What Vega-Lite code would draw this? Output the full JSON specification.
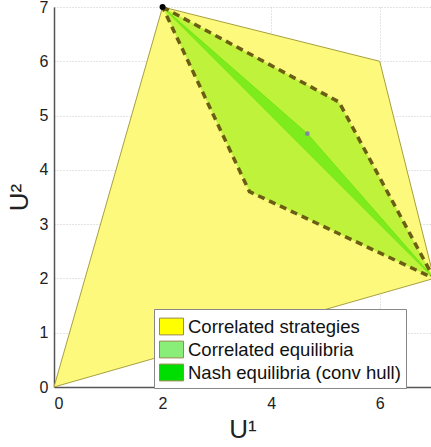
{
  "$schema": "https://vega.github.io/schema/vega-lite/v6.json",
  "width": 377,
  "height": 380,
  "autosize": "none",
  "padding": {"left": 54, "top": 7, "right": 0, "bottom": 60},
  "background": "white",
  "config": {
    "view": {"stroke": null},
    "font": "Liberation Sans",
    "axis": {
      "labelFont": "Liberation Sans",
      "titleFont": "Liberation Sans",
      "labelFontSize": 16,
      "labelColor": "#222",
      "titleFontSize": 26,
      "titleFontWeight": "normal",
      "titleColor": "#222",
      "domainColor": "#555",
      "domainWidth": 1.5,
      "gridColor": "#c8c8c8",
      "gridDash": [1, 2],
      "gridWidth": 1,
      "ticks": false
    },
    "legend": {
      "labelFont": "Liberation Sans",
      "labelFontSize": 18.5,
      "labelColor": "#111",
      "symbolOpacity": 1
    }
  },
  "datasets": {
    "poly": [
      {"poly": "strategies", "i": 1, "u1": 0, "u2": 0},
      {"poly": "strategies", "i": 2, "u1": 2, "u2": 7},
      {"poly": "strategies", "i": 3, "u1": 6, "u2": 6},
      {"poly": "strategies", "i": 4, "u1": 7, "u2": 2},
      {"poly": "strategies", "i": 5, "u1": 0, "u2": 0},
      {"poly": "ce", "i": 1, "u1": 2, "u2": 7},
      {"poly": "ce", "i": 2, "u1": 5.25, "u2": 5.25},
      {"poly": "ce", "i": 3, "u1": 7, "u2": 2},
      {"poly": "ce", "i": 4, "u1": 3.6, "u2": 3.6},
      {"poly": "ce", "i": 5, "u1": 2, "u2": 7},
      {"poly": "nash", "i": 1, "u1": 2, "u2": 7},
      {"poly": "nash", "i": 2, "u1": 4.667, "u2": 4.667},
      {"poly": "nash", "i": 3, "u1": 7, "u2": 2},
      {"poly": "nash", "i": 4, "u1": 2, "u2": 7}
    ],
    "pts": [
      {"name": "pure", "u1": 2, "u2": 7},
      {"name": "mixed", "u1": 4.667, "u2": 4.667}
    ],
    "leg": [
      {"label": "Correlated strategies", "u1": 0, "u2": 0},
      {"label": "Correlated equilibria", "u1": 0, "u2": 0},
      {"label": "Nash equilibria (conv hull)", "u1": 0, "u2": 0}
    ]
  },
  "encoding": {
    "x": {"field": "u1", "type": "quantitative", "scale": {"domain": [0, 6.945], "nice": false, "zero": false},
      "axis": {"title": "U¹", "values": [0, 2, 4, 6], "grid": true, "labelPadding": 8, "titlePadding": 5}},
    "y": {"field": "u2", "type": "quantitative", "scale": {"domain": [0, 7], "nice": false},
      "axis": {"title": "U²", "values": [0, 1, 2, 3, 4, 5, 6, 7], "grid": true, "labelPadding": 6, "titlePadding": 7}}
  },
  "layer": [
    {
      "data": {"name": "poly"},
      "transform": [{"filter": "datum.poly == 'strategies'"}],
      "mark": {"type": "line", "fill": "#fdf97c", "stroke": "#a8a040", "strokeWidth": 1},
      "encoding": {"order": {"field": "i", "type": "quantitative"}}
    },
    {
      "data": {"name": "poly"},
      "transform": [{"filter": "datum.poly == 'ce'"}],
      "mark": {"type": "line", "fill": "#bff23a", "stroke": null, "strokeWidth": 0},
      "encoding": {"order": {"field": "i", "type": "quantitative"}}
    },
    {
      "data": {"name": "poly"},
      "transform": [{"filter": "datum.poly == 'nash'"}],
      "mark": {"type": "line", "fill": "#7eec1c", "stroke": "#72e614", "strokeWidth": 1},
      "encoding": {"order": {"field": "i", "type": "quantitative"}}
    },
    {
      "data": {"name": "poly"},
      "transform": [{"filter": "datum.poly == 'ce'"}],
      "mark": {"type": "line", "stroke": "#6b5e14", "strokeWidth": 3.5, "strokeDash": [7, 5]},
      "encoding": {"order": {"field": "i", "type": "quantitative"}}
    },
    {
      "data": {"name": "pts"},
      "mark": {"type": "point", "filled": true, "opacity": 1},
      "encoding": {
        "color": {"field": "name", "type": "nominal", "scale": {"domain": ["pure", "mixed"], "range": ["#000000", "#8088a8"]}, "legend": null},
        "size": {"field": "name", "type": "nominal", "scale": {"domain": ["pure", "mixed"], "range": [36, 22]}, "legend": null}
      }
    },
    {
      "data": {"name": "leg"},
      "mark": {"type": "square", "opacity": 0},
      "encoding": {
        "fill": {"field": "label", "type": "nominal",
          "scale": {"domain": ["Correlated strategies", "Correlated equilibria", "Nash equilibria (conv hull)"], "range": ["#ffff00", "#88ee77", "#00dd00"]},
          "legend": {
            "title": null, "orient": "none", "legendX": 100, "legendY": 302,
            "fillColor": "white", "strokeColor": "#888", "padding": 5,
            "symbolType": "M-1,-0.7H1V0.7H-1Z", "symbolSize": 576, "symbolStrokeColor": "#9a8a50", "symbolStrokeWidth": 1,
            "rowPadding": 0, "labelOffset": 4, "labelLimit": 400
          }
        }
      }
    }
  ]
}
